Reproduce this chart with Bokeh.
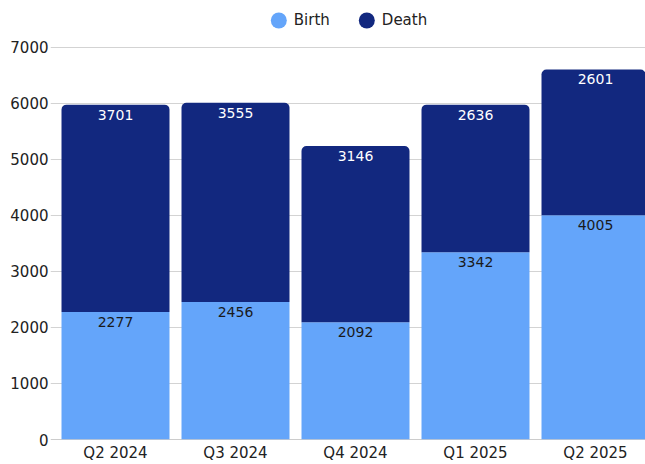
from bokeh.plotting import figure
from bokeh.models import ColumnDataSource, Range1d, FixedTicker, Span, Legend, LegendItem
from bokeh.core.properties import value
from bokeh.embed import file_html
from bokeh.resources import INLINE

quarters = ["Q2 2024", "Q3 2024", "Q4 2024", "Q1 2025", "Q2 2025"]
birth = [2277, 2456, 2092, 3342, 4005]
death = [3701, 3555, 3146, 2636, 2601]
y_ticks = [0, 1000, 2000, 3000, 4000, 5000, 6000, 7000]

BIRTH_COLOR = "#64A5FA"
DEATH_COLOR = "#12287F"
FONT = "DejaVu Sans"

xs = list(range(len(quarters)))
totals = [b + d for b, d in zip(birth, death)]
src = ColumnDataSource(dict(
    x=xs, birth=birth, death=death, total=totals,
    birth_lbl=[str(v) for v in birth], death_lbl=[str(v) for v in death],
))

W, H = 645, 464
BL, BB = 50, 24
frame_h = H - BB            # frame spans the full height above the x labels
y_top = 7000 * frame_h / (frame_h - 47)
x0 = -0.5417
p = figure(width=W, height=H, output_backend="svg", toolbar_location=None,
           x_range=Range1d(x0, x0 + (W - BL) / 120.0),
           y_range=Range1d(0, y_top),
           min_border_left=BL, min_border_right=0, min_border_top=0, min_border_bottom=BB)
p.outline_line_color = None
p.background_fill_color = "white"

# grid
p.xgrid.visible = False
p.ygrid.grid_line_color = "#d3d3d3"
p.ygrid.grid_line_width = 1
p.yaxis.ticker = FixedTicker(ticks=y_ticks)
p.ygrid.ticker = FixedTicker(ticks=y_ticks)
base = Span(location=0, dimension="width", line_color="#9a9a9a", line_width=1.2, level="underlay")
p.add_layout(base)

# bars
rb = p.vbar(x="x", bottom=0, top="birth", width=0.9, source=src,
            fill_color=BIRTH_COLOR, line_color=None)
rd = p.vbar(x="x", bottom="birth", top="total", width=0.9, source=src,
            fill_color=DEATH_COLOR, line_color=None, border_radius=(5, 5, 0, 0))

# value labels
p.text(x="x", y="total", text="death_lbl", source=src, text_align="center",
       text_baseline="middle", y_offset=10, text_color="white",
       text_font=value(FONT), text_font_size="14px")
p.text(x="x", y="birth", text="birth_lbl", source=src, text_align="center",
       text_baseline="middle", y_offset=10, text_color="#1a1a1a",
       text_font=value(FONT), text_font_size="14px")

# axes
p.yaxis.axis_line_color = None
p.yaxis.major_tick_line_color = None
p.yaxis.minor_tick_line_color = None
p.yaxis.major_tick_out = 0
p.yaxis.minor_tick_out = 0
p.yaxis.major_label_standoff = 2
p.yaxis.major_label_text_font = FONT
p.yaxis.major_label_text_font_size = "15px"
p.yaxis.major_label_text_color = "#222222"

p.xaxis.ticker = FixedTicker(ticks=xs)
p.xaxis.major_label_overrides = {i: q for i, q in zip(xs, quarters)}
p.xaxis.axis_line_color = None
p.xaxis.major_tick_line_color = None
p.xaxis.minor_tick_line_color = None
p.xaxis.major_tick_out = 0
p.xaxis.minor_tick_out = 0
p.xaxis.major_label_standoff = 4
p.xaxis.major_label_text_font = FONT
p.xaxis.major_label_text_font_size = "15px"
p.xaxis.major_label_text_color = "#222222"

# legend (circles; the ellipses are of negligible size in the plot itself)
lb = p.ellipse(x="x", y="birth", source=src, width=0.001, height=0.001,
               width_units="screen", height_units="screen",
               fill_color=BIRTH_COLOR, line_color=None)
ld = p.ellipse(x="x", y="total", source=src, width=0.001, height=0.001,
               width_units="screen", height_units="screen",
               fill_color=DEATH_COLOR, line_color=None)
legend = Legend(items=[LegendItem(label="Birth", renderers=[lb]),
                       LegendItem(label="Death", renderers=[ld])],
                location="top_center", orientation="horizontal",
                glyph_width=20, glyph_height=20, label_height=20,
                label_standoff=6, spacing=26,
                padding=0, margin=10,
                label_text_font=FONT, label_text_font_size="15px",
                label_text_color="#222222",
                border_line_color=None, background_fill_alpha=0)
p.add_layout(legend)

open("out.html", "w").write(file_html(p, INLINE))
